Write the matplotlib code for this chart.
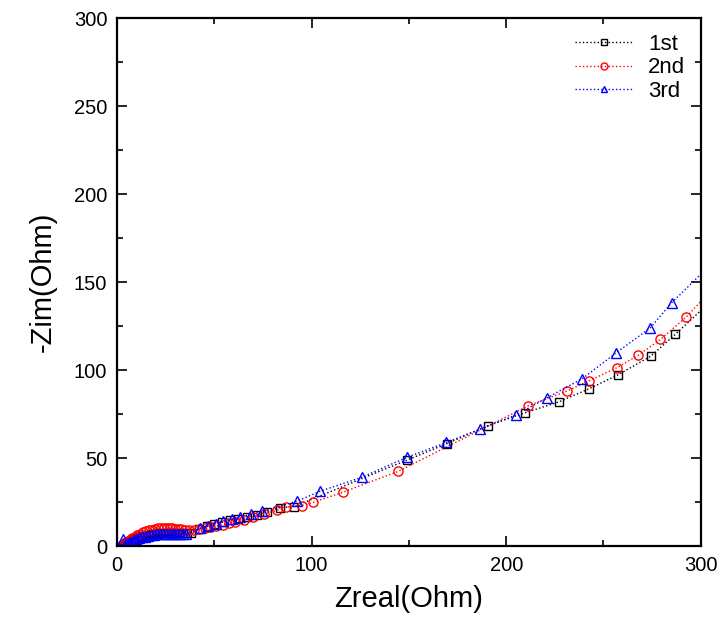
import matplotlib
matplotlib.use("Agg")
import matplotlib.pyplot as plt
from matplotlib.ticker import MultipleLocator

plt.rcParams['font.family'] = ['Liberation Sans', 'DejaVu Sans']

# ---- data ----
x1 = [3, 4, 5, 6, 7, 8, 9, 10, 11.5, 13, 14.5, 16, 17.5, 19, 20.5, 22, 23.5, 25,
      26.5, 28, 29.5, 31, 32.5, 34, 36, 38, 42, 46, 50, 54, 58, 62, 66.8, 72, 77,
      83.7, 91, 149, 169.5, 190.5, 209.5, 227, 242.4, 257.3, 274.3, 287, 305]
y1 = [0.4, 1.1, 1.8, 2.4, 3.0, 3.6, 4.1, 4.6, 5.2, 5.7, 6.1, 6.5, 6.8, 7.1, 7.3,
      7.4, 7.5, 7.5, 7.5, 7.5, 7.4, 7.4, 7.4, 7.4, 7.5, 7.7, 9.8, 11.6, 12.8, 13.6,
      14.7, 15.6, 16.4, 18.0, 19.8, 22.0, 22.6, 49.0, 58.3, 68.5, 75.8, 82.0, 89.4,
      97.3, 108.0, 120.5, 139.0]

x2 = [2.5, 3.5, 4.5, 5.5, 6.5, 7.5, 9, 10.5, 12, 13.5, 15, 16.5, 18, 19.5, 21,
      22.5, 24, 25.5, 27, 28.5, 30, 31.5, 33, 35, 37, 39.5, 42, 45, 48, 51, 54.5,
      57.5, 60.6, 65, 70, 75.5, 82, 87, 94.9, 100.8, 116, 144.5, 211.3, 231.5,
      242.6, 257, 267.8, 279.3, 292.6, 308]
y2 = [0.8, 1.6, 2.4, 3.2, 3.9, 4.6, 5.5, 6.4, 7.2, 7.9, 8.5, 9.1, 9.5, 9.9, 10.2,
      10.4, 10.5, 10.5, 10.4, 10.3, 10.1, 9.9, 9.6, 9.4, 9.3, 9.4, 9.7, 10.2, 10.8,
      11.5, 12.4, 13.4, 13.8, 15.1, 16.6, 18.5, 20.4, 22.3, 23.2, 25.0, 30.7, 42.6,
      79.8, 88.3, 94.0, 101.5, 108.5, 117.5, 130.3, 148.5]

x3 = [3, 4, 5, 6, 7, 8, 9, 10, 11.5, 13, 14.5, 16, 17.5, 19, 20.5, 22, 23.5, 25,
      26.5, 28, 29.5, 31, 32.5, 34, 35.5, 42.6, 46.7, 51, 54.5, 58.9, 63, 69, 74.6,
      92.3, 104.3, 125.7, 148.8, 169.3, 186.6, 205, 221.2, 239.2, 256.6, 274, 285, 306]
y3 = [4.0, 0.5, 1.2, 1.9, 2.5, 3.1, 3.6, 4.1, 4.7, 5.2, 5.6, 6.0, 6.3, 6.6, 6.8,
      6.9, 7.0, 7.0, 7.0, 7.0, 6.9, 6.9, 6.9, 6.9, 7.0, 10.2, 11.5, 12.8, 14.2, 15.3,
      16.8, 18.1, 20.0, 25.5, 31.3, 39.2, 50.5, 59.0, 66.6, 74.6, 84.5, 95.3, 110.0,
      124.0, 138.3, 161.0]

labels = ['1st', '2nd', '3rd']

fig = plt.figure(figsize=(7.18, 6.23), dpi=100)
ax = fig.add_axes([0.163, 0.123, 0.813, 0.848])

ms = 6.3
ax.plot(x1, y1, linestyle=':', color='black', lw=1.0, marker='s', ms=ms,
        mfc='none', mec='black', mew=1.0, label=labels[0])
ax.plot(x2, y2, linestyle=':', color='red', lw=1.0, marker='o', ms=ms + 0.3,
        mfc='none', mec='red', mew=1.0, label=labels[1])
ax.plot(x3, y3, linestyle=':', color='blue', lw=1.0, marker='^', ms=ms + 0.7,
        mfc='none', mec='blue', mew=1.0, label=labels[2])

ax.set_xlim(0, 300)
ax.set_ylim(0, 300)
ax.xaxis.set_major_locator(MultipleLocator(100))
ax.xaxis.set_minor_locator(MultipleLocator(50))
ax.yaxis.set_major_locator(MultipleLocator(50))
ax.yaxis.set_minor_locator(MultipleLocator(25))
ax.tick_params(which='both', direction='in', top=True, right=True, width=1.2)
ax.tick_params(which='major', length=7, labelsize=14.5, pad=7)
ax.tick_params(which='minor', length=4)
for s in ax.spines.values():
    s.set_linewidth(1.6)

ax.set_xlabel('Zreal(Ohm)', fontsize=21, labelpad=7)
ax.set_ylabel('-Zim(Ohm)', fontsize=21, labelpad=12)

leg = ax.legend(loc='upper right', frameon=False, fontsize=16, handlelength=2.6,
                numpoints=1, labelspacing=0.12, borderaxespad=0.3, handletextpad=0.7)
for h in leg.legend_handles:
    h.set_markersize(5)

fig.savefig('out.png', dpi=100)
